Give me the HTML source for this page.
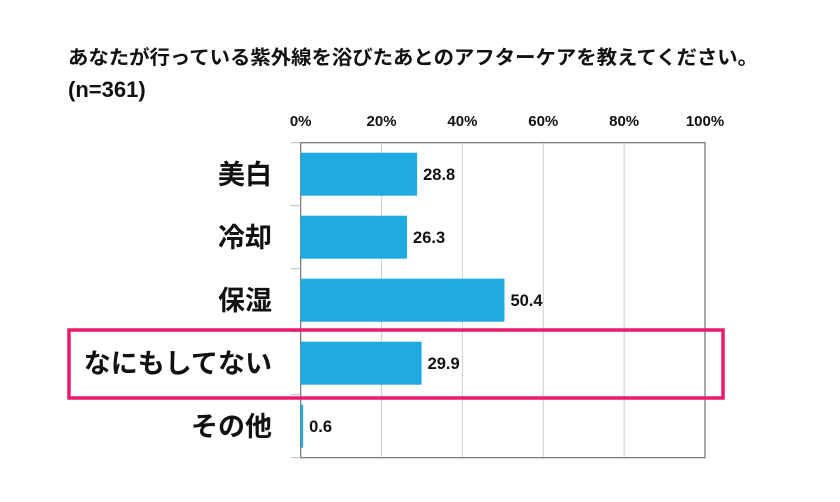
<!DOCTYPE html>
<html><head><meta charset="utf-8">
<style>
html,body{margin:0;padding:0;background:#fff;}
body{width:840px;height:497px;overflow:hidden;font-family:"Liberation Sans","Noto Sans CJK JP",sans-serif;}
</style></head>
<body>
<svg width="840" height="497" xmlns="http://www.w3.org/2000/svg" style="font-family:'Liberation Sans','Noto Sans CJK JP',sans-serif">
<g id="title">
<text x="68" y="64" font-size="19.5" font-weight="bold" fill="#111" textLength="690" lengthAdjust="spacingAndGlyphs">あなたが行っている紫外線を浴びたあとのアフターケアを教えてください。</text>
<text x="68" y="97" font-size="22" font-weight="bold" fill="#111">(n=361)</text>
</g>
<g id="grid"></g>
<g id="bars"></g>
<g id="cats"></g>
<g id="ticks"></g>
<rect x="69" y="330" width="654" height="68" fill="none" stroke="#ec1a6f" stroke-width="3.5"/>
</svg>
<script>
const categories = ["美白","冷却","保湿","なにもしてない","その他"];
const values = [28.8, 26.3, 50.4, 29.9, 0.6];
const valueLabels = ["28.8","26.3","50.4","29.9","0.6"];
const tickValues = [0,20,40,60,80,100];
const tickLabels = ["0%","20%","40%","60%","80%","100%"];

const NS="http://www.w3.org/2000/svg";
const L=300.7,R=705,T=142.7,B=457.7;
const band=(B-T)/categories.length;
const x=v=>L+(v/100)*(R-L);
const yc=i=>T+band*(i+0.5);
function mk(tag,attrs,parent){const e=document.createElementNS(NS,tag);for(const k in attrs)e.setAttribute(k,attrs[k]);parent.appendChild(e);return e;}
const grid=document.getElementById('grid'),bars=document.getElementById('bars'),cats=document.getElementById('cats'),ticks=document.getElementById('ticks');
tickValues.forEach((t,i)=>{
  if(t>0&&t<100){const g=mk('line',{x1:x(t),x2:x(t),y1:T,y2:B,stroke:'#d0d0d0','stroke-width':1},grid);
  
  }
  const tl=mk('text',{x:x(t),y:126,'font-size':15,'font-weight':'bold','text-anchor':'middle',fill:'#111'},ticks);
  tl.textContent=tickLabels[i];
  
  
});
const frame=mk('rect',{x:L,y:T,width:R-L,height:B-T,fill:'none',stroke:'#707070','stroke-width':1.2},grid);


for(let i=0;i<=categories.length;i++){
  const tk=mk('line',{x1:L-10,x2:L,y1:T+band*i,y2:T+band*i,stroke:'#bbb','stroke-width':1},grid);
  
  
}
const bh=43;
categories.forEach((c,i)=>{
  const b=mk('rect',{x:L,y:yc(i)-bh/2,width:x(values[i])-L,height:bh,fill:'#1fabe1'},bars);
  
  
  const v=mk('text',{x:x(values[i])+6,y:yc(i)+6,'font-size':16.5,'font-weight':'bold',fill:'#111'},bars);
  v.textContent=valueLabels[i];
  
  
  const t=mk('text',{x:272,y:yc(i)+10,'font-size':27,'font-weight':'bold','text-anchor':'end',fill:'#111'},cats);
  t.textContent=c;
  
  
});
</script>
</body></html>
